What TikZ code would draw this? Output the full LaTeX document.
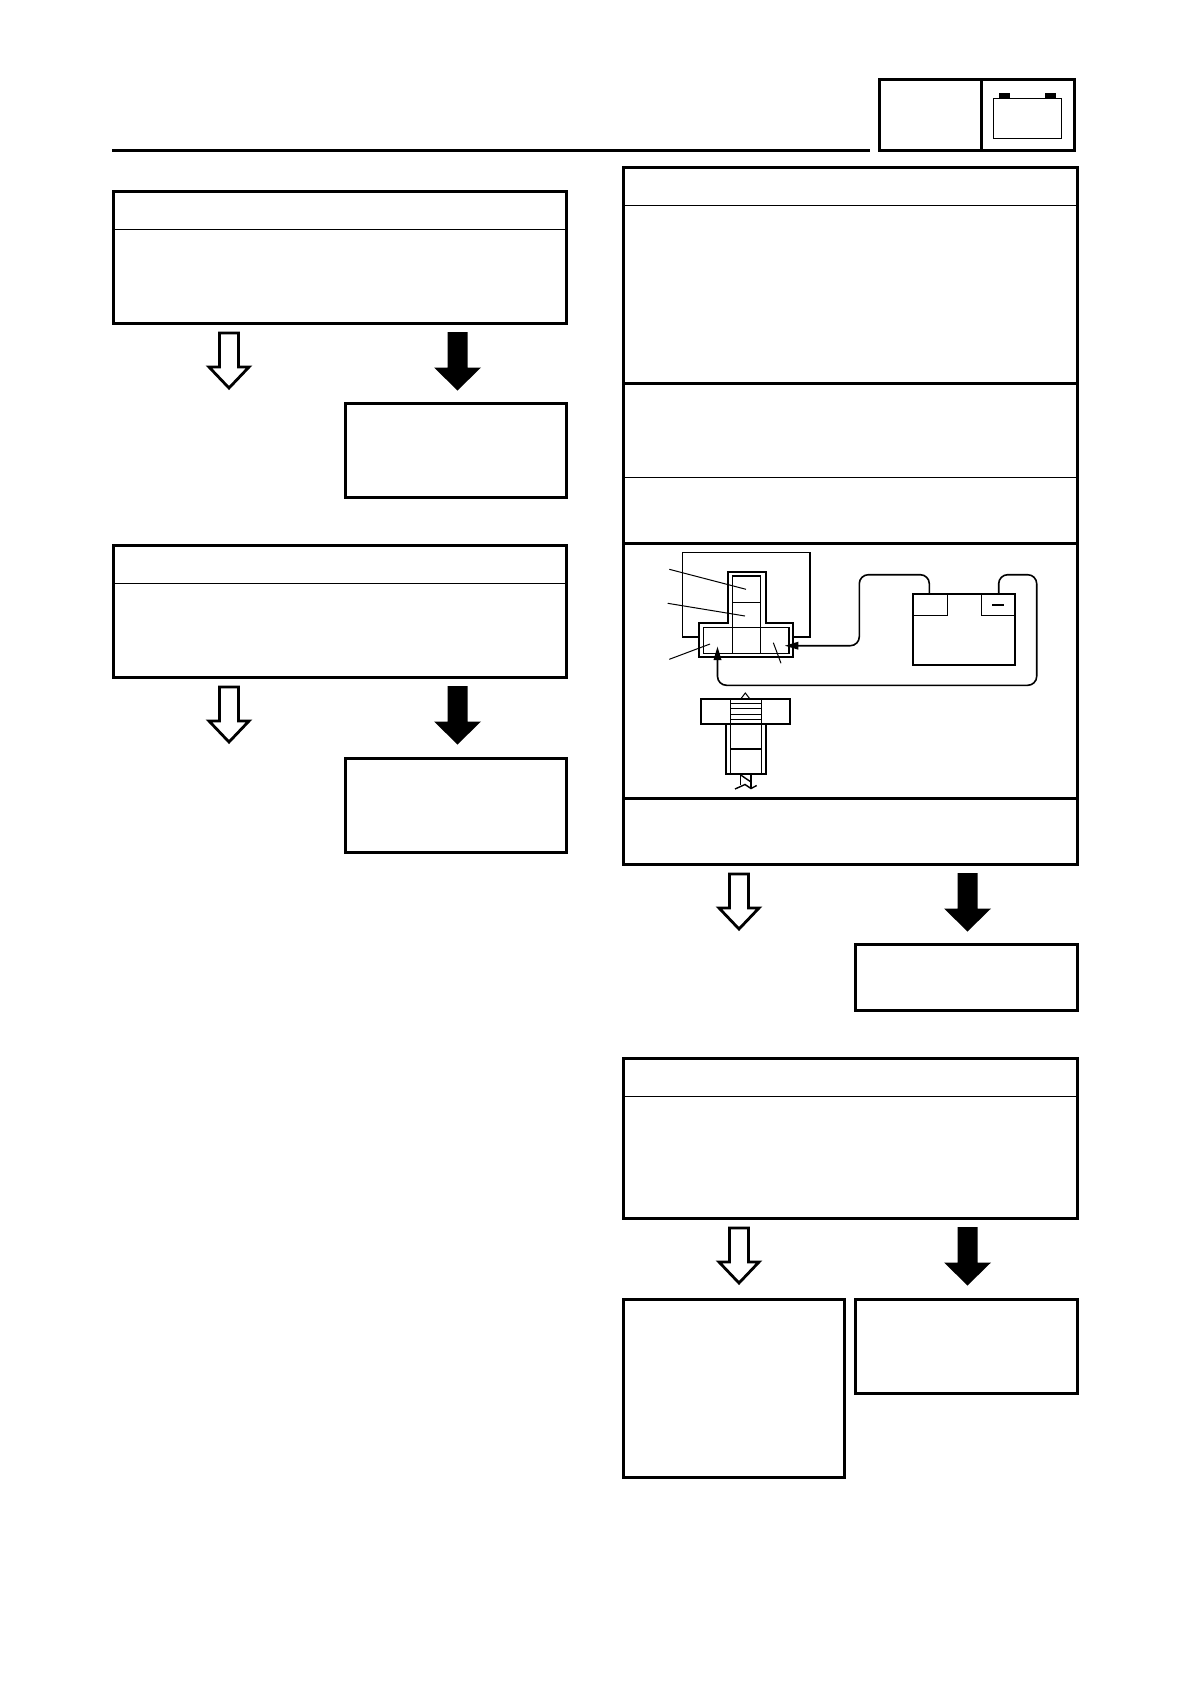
\documentclass[tikz,border=0pt]{standalone}
\usetikzlibrary{calc}
\tikzset{
  heavy/.style={line width=3pt,draw=black,line cap=rect,line join=miter},
  hair/.style={line width=1pt,draw=black},
  mid/.style={line width=1.4pt,draw=black},
  wire/.style={line width=1.6pt,draw=black,rounded corners=9pt},
  yesarrow/.pic={\draw[line width=2.8pt,fill=white,line join=miter] (-9.5,0)--(9.5,0)--(9.5,34)--(20,34)--(0,55)--(-20,34)--(-9.5,34)--cycle;},
  noarrow/.pic={\fill[black] (-10,-1)--(10,-1)--(10,34.5)--(23.5,34.5)--(0,57.5)--(-23.5,34.5)--(-10,34.5)--cycle;}
}
\begin{document}
\begin{tikzpicture}[x=1pt,y=-1pt]
\useasboundingbox (0,0) rectangle (1190,1684);
\fill[white] (0,0) rectangle (1190,1684);
% header
\draw[heavy] (113,150) -- (868,150);
\draw[heavy] (879.3,79.7) rectangle (1074.3,150);
\draw[heavy] (981.3,79.7) -- (981.3,150);
\draw[line width=1.2pt] (993.3,98.3) rectangle (1061.7,138.3);
\fill (999,92.7) rectangle (1010,98.3);
\fill (1045,92.7) rectangle (1056,98.3);
% left column
\draw[heavy] (113,191) rectangle (566,323);
\draw[hair] (113,229) -- (566,229);
\pic at (229,333) {yesarrow};
\pic at (457.5,333) {noarrow};
\draw[heavy] (345,403) rectangle (566,497);
\draw[heavy] (113,545) rectangle (566,677.5);
\draw[hair] (113,583) -- (566,583);
\pic at (229,687) {yesarrow};
\pic at (457.5,687) {noarrow};
\draw[heavy] (345,758) rectangle (566,852.5);
% right column
\draw[heavy] (623,167.5) rectangle (1077,864);
\draw[hair] (623,205) -- (1077,205);
\draw[heavy] (623,383) -- (1077,383);
\draw[hair] (623,477) -- (1077,477);
\draw[heavy] (623,543) -- (1077,543);
\draw[heavy] (623,798) -- (1077,798);
\pic at (739,874) {yesarrow};
\pic at (967.5,874) {noarrow};
\draw[heavy] (855,944) rectangle (1077,1010);
\draw[heavy] (623,1058) rectangle (1077,1218);
\draw[hair] (623,1096.5) -- (1077,1096.5);
\pic at (739,1228) {yesarrow};
\pic at (967.5,1228) {noarrow};
\draw[heavy] (623,1299.5) rectangle (844,1477);
\draw[heavy] (855,1299.5) rectangle (1077,1393);
% switch body and housing
\draw[mid] (699,637) -- (682.3,637) -- (682.3,552.3) -- (810,552.3) -- (810,637) -- (793.3,637);
\draw[line width=2.3pt] (727.7,622.7) -- (727.7,571.7) -- (765.7,571.7) -- (765.7,622.7) -- (793.3,622.7) -- (793.3,656.7) -- (699,656.7) -- (699,622.7) -- cycle;
\draw[mid] (703.3,627.3) rectangle (789,653.3);
\draw[mid] (732.3,653.3) -- (732.3,576) -- (760.7,576) -- (760.7,653.3);
\draw[hair] (732.3,602.3) -- (760.7,602.3);
% leaders
\draw[hair] (669.3,569.3) -- (746,589.3);
\draw[hair] (667.7,603.3) -- (745,616);
\draw[hair] (669.3,659.3) -- (710,644);
\draw[hair] (773.3,642.7) -- (781,663.3);
% battery
\draw[line width=1.8pt] (913,594.3) rectangle (1015.2,665);
\draw[hair] (913,615.3) -- (947.3,615.3) -- (947.3,594.3);
\draw[hair] (981.7,594.3) -- (981.7,615.3) -- (1015.2,615.3);
\draw[line width=1.8pt] (992.3,604.7) -- (1004,604.7);
% wires
\draw[wire] (798,645.7) -- (859.3,645.7) -- (859.3,574.7) -- (929.3,574.7) -- (929.3,594.3);
\draw[wire] (998.7,594.3) -- (998.7,574.7) -- (1036.7,574.7) -- (1036.7,685.3) -- (717.5,685.3) -- (717.5,660);
\fill (785,645.7) -- (798.3,641.7) -- (798.3,649.7) -- cycle;
\fill (717.5,646.7) -- (713.5,660) -- (721.5,660) -- cycle;
% bulb
\draw[line width=2.2pt] (700.7,699) rectangle (790.3,724);
\draw[mid] (730.7,699) -- (730.7,774);
\draw[mid] (761.7,699) -- (761.7,774);
\foreach \yy in {703.3,708.7,714,719} \draw[hair] (730.7,\yy) -- (761.7,\yy);
\draw[hair] (740.7,699) -- (745.3,693) -- (750,699);
\draw[line width=2.2pt] (726,724) -- (726,774) -- (765.7,774) -- (765.7,724);
\draw[line width=1.8pt] (730.7,749) -- (761.7,749);
\draw[mid] (740.7,774) -- (740.7,785);
\draw[mid] (751,774) -- (751,788.5);
\draw[mid] (740.7,775) -- (751,782);
\draw[mid] (735,789) -- (745,784.5) -- (751,788.5) -- (756.7,785.5);
\end{tikzpicture}
\end{document}
